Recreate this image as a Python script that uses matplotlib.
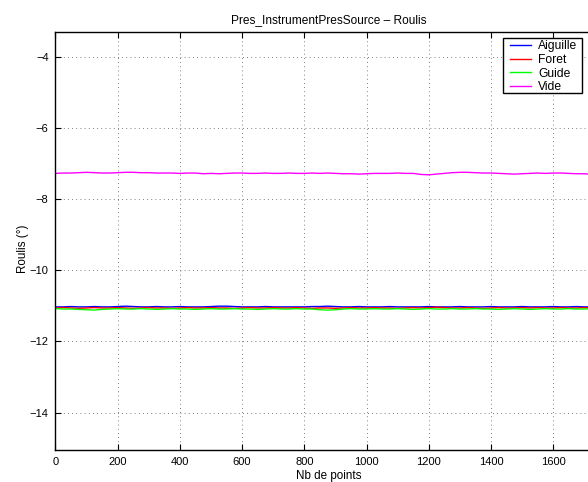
import matplotlib
matplotlib.use("Agg")
import matplotlib.pyplot as plt
from matplotlib.patches import Rectangle
import numpy as np

plt.rcParams['font.family'] = ['Liberation Sans', 'DejaVu Sans']

title = "Pres_InstrumentPresSource \u2013 Roulis"
xlabel = "Nb de points"
ylabel = "Roulis (\u00b0)"
series_names = ["Aiguille", "Foret", "Guide", "Vide"]
series_colors = ["#0000ff", "#ff0000", "#00ff00", "#ff00ff"]
xtick_values = [0, 200, 400, 600, 800, 1000, 1200, 1400, 1600]
ytick_values = [-14, -12, -10, -8, -6, -4]

step = 25
aiguille = [-11.03, -11.03, -11.02, -11.03, -11.03, -11.02, -11.03, -11.03, -11.02, -11.01,
            -11.02, -11.03, -11.03, -11.02, -11.03, -11.03, -11.02, -11.03, -11.03, -11.03,
            -11.02, -11.01, -11.01, -11.02, -11.03, -11.03, -11.03, -11.02, -11.03, -11.03,
            -11.03, -11.03, -11.03, -11.02, -11.02, -11.01, -11.02, -11.03, -11.03, -11.02,
            -11.03, -11.03, -11.03, -11.02, -11.03, -11.03, -11.03, -11.03, -11.02, -11.03,
            -11.03, -11.03, -11.02, -11.03, -11.03, -11.03, -11.02, -11.03, -11.03, -11.03,
            -11.02, -11.03, -11.03, -11.03, -11.02, -11.03, -11.03, -11.02, -11.03, -11.03]
foret = [-11.06, -11.05, -11.06, -11.07, -11.06, -11.05, -11.06, -11.06, -11.05, -11.06,
         -11.07, -11.06, -11.05, -11.06, -11.06, -11.07, -11.06, -11.05, -11.06, -11.06,
         -11.05, -11.06, -11.06, -11.07, -11.06, -11.05, -11.06, -11.06, -11.05, -11.06,
         -11.06, -11.05, -11.06, -11.07, -11.06, -11.06, -11.07, -11.06, -11.05, -11.06,
         -11.06, -11.05, -11.06, -11.06, -11.07, -11.06, -11.05, -11.06, -11.05, -11.04,
         -11.05, -11.06, -11.06, -11.05, -11.06, -11.07, -11.06, -11.05, -11.06, -11.06,
         -11.05, -11.06, -11.05, -11.06, -11.06, -11.05, -11.06, -11.06, -11.05, -11.06]
guide = [-11.08, -11.09, -11.09, -11.10, -11.11, -11.12, -11.10, -11.09, -11.08, -11.09,
         -11.09, -11.08, -11.09, -11.10, -11.09, -11.08, -11.09, -11.09, -11.10, -11.09,
         -11.08, -11.09, -11.09, -11.08, -11.09, -11.09, -11.10, -11.09, -11.08, -11.09,
         -11.09, -11.08, -11.09, -11.09, -11.11, -11.12, -11.11, -11.09, -11.08, -11.09,
         -11.09, -11.08, -11.09, -11.09, -11.08, -11.09, -11.10, -11.09, -11.08, -11.09,
         -11.09, -11.08, -11.09, -11.09, -11.08, -11.09, -11.09, -11.10, -11.09, -11.08,
         -11.09, -11.10, -11.09, -11.08, -11.09, -11.09, -11.08, -11.09, -11.09, -11.08]
vide = [-7.28, -7.27, -7.27, -7.26, -7.25, -7.26, -7.27, -7.27, -7.26, -7.25,
        -7.25, -7.26, -7.26, -7.27, -7.27, -7.27, -7.28, -7.27, -7.27, -7.29,
        -7.28, -7.29, -7.28, -7.27, -7.27, -7.28, -7.28, -7.27, -7.28, -7.28,
        -7.27, -7.28, -7.28, -7.27, -7.28, -7.27, -7.28, -7.29, -7.29, -7.30,
        -7.29, -7.28, -7.28, -7.28, -7.27, -7.28, -7.28, -7.31, -7.32, -7.30,
        -7.28, -7.26, -7.25, -7.25, -7.26, -7.27, -7.27, -7.28, -7.29, -7.30,
        -7.29, -7.28, -7.27, -7.28, -7.27, -7.27, -7.28, -7.29, -7.29, -7.31]

W, H = 588, 482
fig = plt.figure(figsize=(W / 100, H / 100), dpi=100)
ax_left, ax_right, ax_top, ax_bottom = 55.5, 602, 31.7, 450
ax = fig.add_axes([ax_left / W, 1 - ax_bottom / H, (ax_right - ax_left) / W, (ax_bottom - ax_top) / H])

handles = []
for name, vals, col in zip(series_names, [aiguille, foret, guide, vide], series_colors):
    x = np.arange(len(vals)) * step
    h, = ax.plot(x, vals, color=col, lw=1.0, label=name)
    handles.append(h)

ax.set_xlim(0, 1757)
ax.set_ylim(-15.05, -3.3)
ax.set_xticks(xtick_values)
ax.set_yticks(ytick_values)
ax.grid(True, linestyle=(0, (1, 4)), color='#555555', lw=0.6)
ax.tick_params(direction='in', length=4, width=0.8, top=True, right=True, labelsize=8, pad=5)
for s in ax.spines.values():
    s.set_linewidth(1.0)

ax.set_title(title, fontsize=8.6, pad=6)
ax.set_xlabel(xlabel, fontsize=8.4, labelpad=2)
ax.set_ylabel(ylabel, fontsize=8.4)
ax.yaxis.set_label_coords(-0.049, 0.48)

# legend frame (MATLAB style)
frame = Rectangle((503 / W, 1 - 93 / H), 79 / W, 55 / H, transform=fig.transFigure,
                  facecolor='white', edgecolor='black', lw=1.0, zorder=4)
fig.add_artist(frame)
leg = fig.legend(handles, series_names, loc='upper left', bbox_to_anchor=(510 / W, 1 - 40.5 / H),
                 bbox_transform=fig.transFigure, fontsize=8.7, frameon=False,
                 borderaxespad=0, borderpad=0, handlelength=1.74, handletextpad=0.58,
                 labelspacing=0.125)
leg.set_zorder(5)

fig.savefig("out.png", dpi=100)
